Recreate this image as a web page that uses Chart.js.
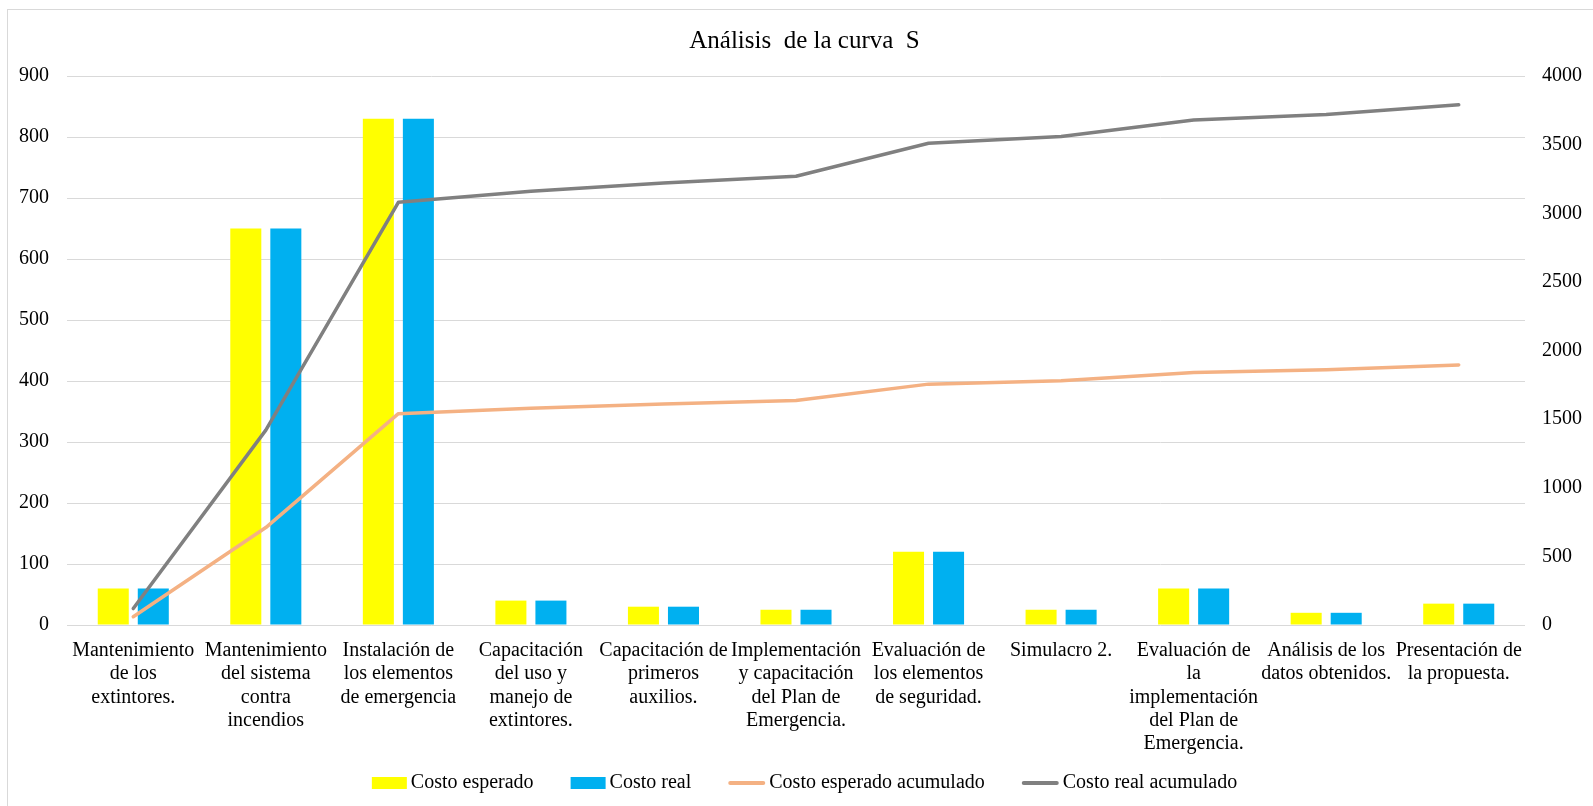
<!DOCTYPE html>
<html>
<head>
<meta charset="utf-8">
<title>Análisis de la curva S</title>
<script src="https://cdn.jsdelivr.net/npm/chart.js@4.4.1/dist/chart.umd.min.js"></script>
<style>
  html, body { margin: 0; padding: 0; background: #fff; overflow: hidden; }
  #wrap { position: relative; width: 1593px; height: 806px; }
  #frame { position: absolute; left: 7px; top: 9px; width: 1620px; height: 830px;
           border: 1px solid #d9d9d9; pointer-events: none; }
</style>
</head>
<body>
<div id="wrap">
  <canvas id="curva"></canvas>
  <div id="frame"></div>
</div>
<script>
const FONT = '"Liberation Serif", "Times New Roman", serif';

const actividades = [
    ['Mantenimiento', 'de los', 'extintores.'],
    ['Mantenimiento', 'del sistema', 'contra', 'incendios'],
    ['Instalación de', 'los elementos', 'de emergencia'],
    ['Capacitación', 'del uso y', 'manejo de', 'extintores.'],
    ['Capacitación de', 'primeros', 'auxilios.'],
    ['Implementación', 'y capacitación', 'del Plan de', 'Emergencia.'],
    ['Evaluación de', 'los elementos', 'de seguridad.'],
    ['Simulacro 2.'],
    ['Evaluación de', 'la', 'implementación', 'del Plan de', 'Emergencia.'],
    ['Análisis de los', 'datos obtenidos.'],
    ['Presentación de', 'la propuesta.']
];

const costoEsperado = [60, 650, 830, 40, 30, 25, 120, 25, 60, 20, 35];
const costoReal = [60, 650, 830, 40, 30, 25, 120, 25, 60, 20, 35];
const esperadoAcumulado = [60, 710, 1540, 1580, 1610, 1635, 1755, 1780, 1840, 1860, 1895];
const realAcumulado = [120, 1420, 3080, 3160, 3220, 3270, 3510, 3560, 3680, 3720, 3790];

// legend drawn by hand: Excel puts the text right next to the key
const leyenda = {
    id: 'leyenda',
    afterDraw(chart) {
        const ctx = chart.ctx;
        ctx.save();
        ctx.font = '20px ' + FONT;
        ctx.textBaseline = 'middle';
        const items = chart.data.datasets.map(ds => {
            const line = ds.type === 'line';
            return {
                text: ds.label,
                color: line ? ds.borderColor : ds.backgroundColor,
                line: line,
                keyW: line ? 37 : 35,
                textW: ctx.measureText(ds.label).width
            };
        });
        const gap = 4, spacing = 37;
        let total = 0;
        items.forEach(it => total += it.keyW + gap + it.textW);
        total += spacing * (items.length - 1);
        let x = chart.width / 2 + 8 - total / 2;
        const y = chart.height - 23;
        items.forEach(it => {
            if (it.line) {
                ctx.strokeStyle = it.color;
                ctx.lineWidth = 4;
                ctx.lineCap = 'round';
                ctx.beginPath();
                ctx.moveTo(x + 2, y);
                ctx.lineTo(x + it.keyW - 2, y);
                ctx.stroke();
            } else {
                ctx.fillStyle = it.color;
                ctx.fillRect(x, y - 6, it.keyW, 12);
            }
            x += it.keyW + gap;
            ctx.fillStyle = '#000';
            ctx.fillText(it.text, x, y);
            x += it.textW + spacing;
        });
        ctx.restore();
    }
};

new Chart(document.getElementById('curva'), {
    type: 'bar',
    data: {
        labels: actividades,
        datasets: [
            {
                label: 'Costo esperado',
                data: costoEsperado,
                backgroundColor: '#ffff00',
                yAxisID: 'y',
                order: 1
            },
            {
                label: 'Costo real',
                data: costoReal,
                backgroundColor: '#00b0f0',
                yAxisID: 'y',
                order: 1
            },
            {
                type: 'line',
                label: 'Costo esperado acumulado',
                data: esperadoAcumulado,
                borderColor: '#f4b183',
                borderWidth: 3.5,
                borderCapStyle: 'round',
                borderJoinStyle: 'round',
                pointRadius: 0,
                tension: 0,
                fill: false,
                yAxisID: 'y1',
                order: 0
            },
            {
                type: 'line',
                label: 'Costo real acumulado',
                data: realAcumulado,
                borderColor: '#808080',
                borderWidth: 3.5,
                borderCapStyle: 'round',
                borderJoinStyle: 'round',
                pointRadius: 0,
                tension: 0,
                fill: false,
                yAxisID: 'y1',
                order: 0
            }
        ]
    },
    options: {
        responsive: true,
        maintainAspectRatio: false,
        animation: false,
        datasets: {
            bar: {
                categoryPercentage: 0.604,
                barPercentage: 0.775
            }
        },
        layout: { padding: { left: 16, right: 0, top: 0, bottom: 0 } },
        plugins: {
            legend: { display: false },
            tooltip: { enabled: false },
            title: {
                display: true,
                text: 'Análisis  de la curva  S',
                color: '#000',
                font: { family: FONT, size: 25, weight: 'normal' },
                padding: { top: 26, bottom: 20 }
            }
        },
        scales: {
            x: {
                grid: { display: false },
                border: { display: false },
                ticks: {
                    color: '#000',
                    maxRotation: 0,
                    autoSkip: false,
                    padding: 6,
                    font: { family: FONT, size: 20, lineHeight: 1.167 }
                },
                afterFit(scale) { scale.height = 181; }
            },
            y: {
                position: 'left',
                min: 0,
                max: 900,
                grid: { color: '#d9d9d9', lineWidth: 1, drawTicks: false },
                border: { display: false },
                ticks: {
                    stepSize: 100,
                    color: '#000',
                    padding: 18,
                    font: { family: FONT, size: 20 }
                },
                afterFit(scale) { scale.width = 51; }
            },
            y1: {
                position: 'right',
                min: 0,
                max: 4000,
                grid: { display: false, drawTicks: false },
                border: { display: false },
                ticks: {
                    stepSize: 500,
                    color: '#000',
                    padding: 17,
                    font: { family: FONT, size: 20 },
                    callback: v => String(v)
                },
                afterFit(scale) { scale.width = 68; }
            }
        }
    },
    plugins: [leyenda]
});
</script>
</body>
</html>
